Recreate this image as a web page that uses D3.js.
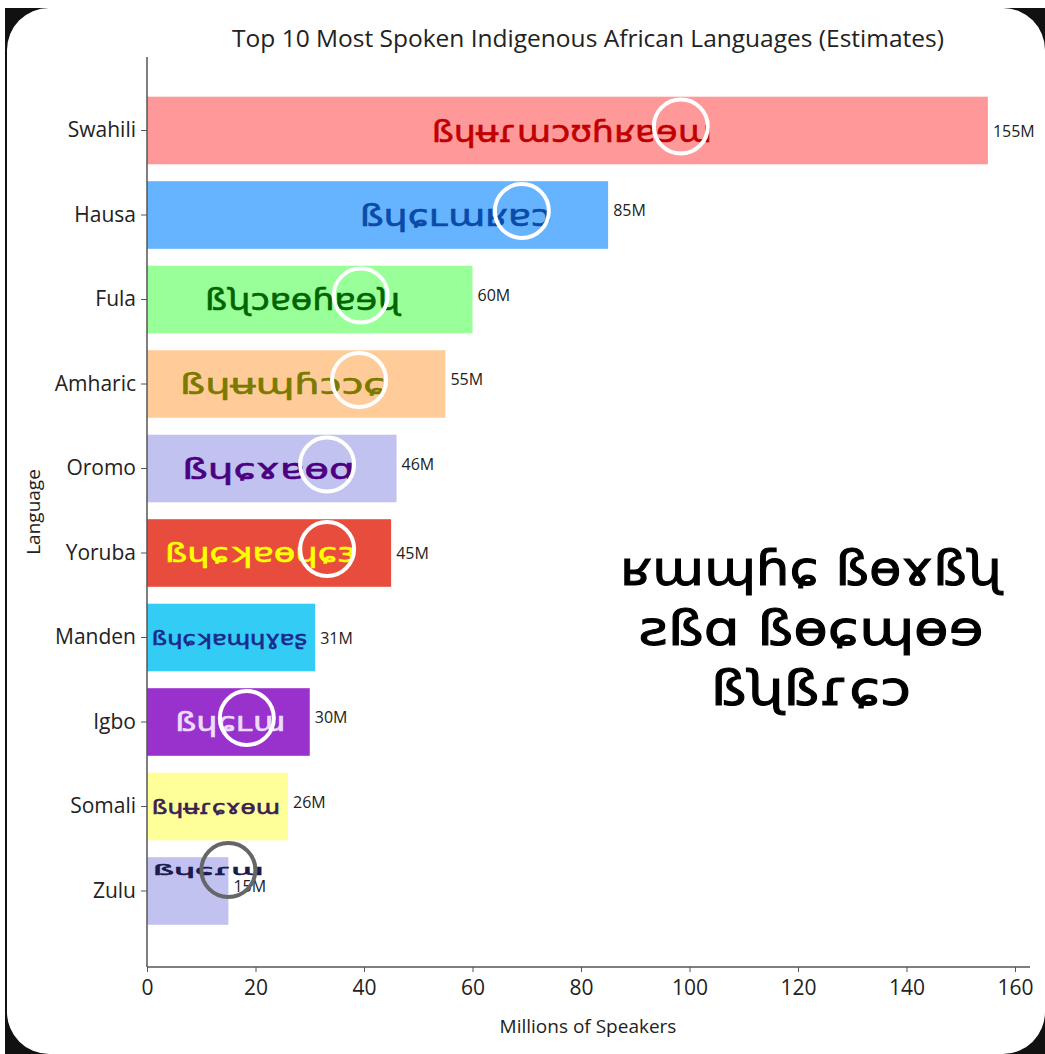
<!DOCTYPE html>
<html>
<head>
<meta charset="utf-8">
<script src="https://cdn.jsdelivr.net/npm/d3@7"></script>
<style>
  html, body { margin: 0; padding: 0; background: #fff; }
  svg { display: block; }
  .tick text { font-family: "Open Sans", sans-serif; fill: #222; }
</style>
</head>
<body>
<div id="chart"></div>
<script>
var languages = ["Swahili", "Hausa", "Fula", "Amharic", "Oromo", "Yoruba", "Manden", "Igbo", "Somali", "Zulu"],
    speakers = [155, 85, 60, 55, 46, 45, 31, 30, 26, 15],
    barColors = ["#ff9999", "#66b3ff", "#99ff99", "#ffcc99", "#c2c2f0", "#e74c3c", "#33ccf5", "#9932cc", "#ffff99", "#c2c2f0"],
    scriptColors = ["#c00000", "#0a4aa8", "#006400", "#7a7a00", "#4b0082", "#ffff00", "#1a2a8a", "#eedcff", "#3a1f4f", "#1a1a4e"];

// the names written in the script (approximated with IPA letters)
var scriptNames = ["ßɥʉɾɯɔʊɦʁɐɘɯ", "ßɥɕʟɯʁɐɔ", "ßʯɔɐɵɦɐɘʯ", "ßɥʉɰɦɔɔɕ", "ßɥɕɤɐɵɑ", "ßɥɕʞɐɵɥɕɜ", "ßɥɕʞɐɰɥɣɐʂ", "ßɥɕʟɯ", "ßɥʉɾɕɤɵɯ", "ßɥɕɾɯ"],
    scriptFrom = [52.5, 39.2, 10.7, 6.1, 6.5, 3.3, 0.9, 5.2, 0.9, 1.1],
    scriptTo = [104.1, 74.6, 46.7, 43.9, 38.3, 38.5, 29.5, 25.5, 24.5, 21.5],
    scriptSize = [31, 30, 30, 28, 28, 26, 20, 26, 20, 14],
    circleAt = [98.4, 69.1, 39.4, 39.1, 33.2, 33.2, null, 18.4, null, 15];

var bigText = ["ʁɯɰɦɕ ßɵɤßʯ", "ƨßɑ ßɵɕɰɵɘ", "ßʯßɾɕɔ"];

var xTicks = [0, 20, 40, 60, 80, 100, 120, 140, 160];

var W = 1045, H = 1054;
var svg = d3.select("#chart").append("svg")
    .attr("width", W)
    .attr("height", H);

// black card behind, white rounded card on top
svg.append("rect").attr("x", 5).attr("y", 8).attr("width", W).attr("height", H)
    .attr("fill", "#111");
svg.append("rect").attr("x", 7).attr("y", 8).attr("width", W - 7).attr("height", H - 8)
    .attr("rx", 42).attr("ry", 42).attr("fill", "#fff");

var x = d3.scaleLinear()
    .domain([0, 160])
    .range([147, 1015]);

var y = d3.scaleBand()
    .domain(languages)
    .range([88.25, 933.25])
    .paddingInner(0.2)
    .paddingOuter(0.1);

var plotBottom = 967,
    plotTop = 57;

// bars
svg.selectAll(".bar")
    .data(languages)
    .enter().append("rect")
    .attr("class", "bar")
    .attr("x", x(0))
    .attr("y", function (d) { return y(d); })
    .attr("width", function (d, i) { return x(speakers[i]) - x(0); })
    .attr("height", y.bandwidth())
    .attr("fill", function (d, i) { return barColors[i]; });

// script names in bars
svg.selectAll(".script")
    .data(languages)
    .enter().append("text")
    .attr("class", "script")
    .attr("x", function (d, i) { return x(scriptFrom[i]); })
    .attr("y", function (d, i) {
        var c = y(d) + y.bandwidth() / 2;
        return i == 9 ? c - 16 : c + scriptSize[i] * 0.36;
    })
    .attr("textLength", function (d, i) { return x(scriptTo[i]) - x(scriptFrom[i]); })
    .attr("lengthAdjust", "spacingAndGlyphs")
    .style("font-family", "DejaVu Sans, sans-serif")
    .style("font-size", function (d, i) { return scriptSize[i] + "px"; })
    .attr("fill", function (d, i) { return scriptColors[i]; })
    .attr("stroke", function (d, i) { return scriptColors[i]; })
    .attr("stroke-width", 0.6)
    .text(function (d, i) { return scriptNames[i]; });

// value labels
svg.selectAll(".val")
    .data(languages)
    .enter().append("text")
    .attr("class", "val")
    .attr("x", function (d, i) { return x(speakers[i]) + 5; })
    .attr("y", function (d, i) {
        var c = y(d) + y.bandwidth() / 2;
        return (i == 0 || i == 5 || i == 6) ? c + 6 : c + 1;
    })
    .style("font-family", "Open Sans, sans-serif")
    .style("font-size", "16px")
    .attr("fill", "#222")
    .text(function (d, i) { return speakers[i] + "M"; });

// highlight circles
svg.selectAll(".ring")
    .data(languages.filter(function (d, i) { return circleAt[i] != null; }))
    .enter().append("circle")
    .attr("class", "ring")
    .attr("cx", function (d) { return x(circleAt[languages.indexOf(d)]); })
    .attr("cy", function (d) {
        var i = languages.indexOf(d);
        return y(d) + y.bandwidth() / 2 + (i == 9 ? -21 : -4);
    })
    .attr("r", 27)
    .attr("fill", "none")
    .attr("stroke", function (d) { return d == "Zulu" ? "#666" : "#fff"; })
    .attr("stroke-width", 4);

// axes
var xAxis = d3.axisBottom(x).tickValues(xTicks).tickSize(5).tickPadding(8);
var gx = svg.append("g")
    .attr("transform", "translate(0," + plotBottom + ")")
    .call(xAxis);
gx.select(".domain").remove();
gx.append("line")
    .attr("x1", x(0)).attr("x2", 1030)
    .attr("stroke", "#555").attr("stroke-width", 1.5);
gx.selectAll(".tick line").attr("stroke", "#555");
gx.selectAll(".tick text").style("font-size", "21px").attr("fill", "#222");

var yAxis = d3.axisLeft(y).tickSize(6).tickPadding(5);
var gy = svg.append("g")
    .attr("transform", "translate(" + x(0) + ",0)")
    .call(yAxis);
gy.select(".domain").remove();
gy.append("line")
    .attr("y1", plotTop).attr("y2", plotBottom)
    .attr("stroke", "#555").attr("stroke-width", 1.5);
gy.selectAll(".tick line").attr("stroke", "#555");
gy.selectAll(".tick text").style("font-size", "21px").attr("fill", "#222");

// titles
svg.append("text")
    .attr("x", 588).attr("y", 47)
    .attr("text-anchor", "middle")
    .style("font-family", "Open Sans, sans-serif")
    .style("font-size", "24.5px")
    .attr("fill", "#222")
    .text("Top 10 Most Spoken Indigenous African Languages (Estimates)");

svg.append("text")
    .attr("x", 588).attr("y", 1033)
    .attr("text-anchor", "middle")
    .style("font-family", "Open Sans, sans-serif")
    .style("font-size", "19px")
    .attr("fill", "#222")
    .text("Millions of Speakers");

svg.append("text")
    .attr("transform", "translate(40,512) rotate(-90)")
    .attr("text-anchor", "middle")
    .style("font-family", "Open Sans, sans-serif")
    .style("font-size", "19px")
    .attr("fill", "#222")
    .text("Language");

// big script text on the right
svg.selectAll(".big")
    .data(bigText)
    .enter().append("text")
    .attr("class", "big")
    .attr("x", 811)
    .attr("y", function (d, i) { return 585 + i * 60; })
    .attr("text-anchor", "middle")
    .attr("textLength", function (d, i) { return [382, 345, 200][i]; })
    .attr("lengthAdjust", "spacingAndGlyphs")
    .style("font-family", "DejaVu Sans, sans-serif")
    .style("font-size", "48px")
    .attr("fill", "#000")
    .attr("stroke", "#000")
    .attr("stroke-width", 1)
    .text(function (d) { return d; });
</script>
</body>
</html>
